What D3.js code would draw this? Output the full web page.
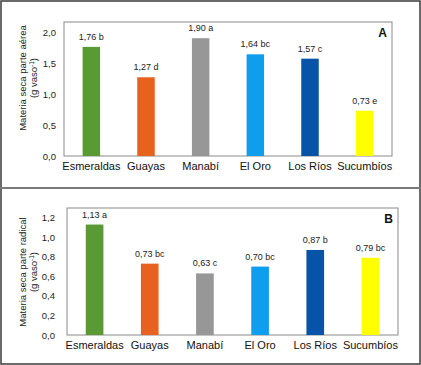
<!DOCTYPE html>
<html lang="es">
<head>
    <meta charset="UTF-8">
    <title>Materia seca</title>
    <script src="https://d3js.org/d3.v7.min.js"></script>
    <style>
        body { margin: 0; background: #fff; }
        svg { display: block; font-family: Arial, "Liberation Sans", sans-serif; }
    </style>
</head>
<body>
    <svg width="421" height="365"></svg>
    <script>

// Data
const categories = ["Esmeraldas", "Guayas", "Manabí", "El Oro", "Los Ríos", "Sucumbíos"];
const barColors = ["#5a9a35", "#e8621f", "#979797", "#0f9ded", "#0753a8", "#ffff00"];

const aereaValues = [1.76, 1.27, 1.90, 1.64, 1.57, 0.73];
const aereaLetters = ["b", "d", "a", "bc", "c", "e"];
const aereaTicks = [0, 0.5, 1.0, 1.5, 2.0];

const radicalValues = [1.13, 0.73, 0.63, 0.70, 0.87, 0.79];
const radicalLetters = ["a", "bc", "c", "bc", "b", "bc"];
const radicalTicks = [0, 0.2, 0.4, 0.6, 0.8, 1.0, 1.2];

// comma as decimal separator
const es = d3.formatLocale({ decimal: ",", thousands: ".", grouping: [3], currency: ["", "€"] });
const fmt1 = es.format(".1f");
const fmt2 = es.format(".2f");

const svg = d3.select("svg");

// outer frame and separator between the two panels
svg.append("rect")
    .attr("x", 1).attr("y", 1)
    .attr("width", 419).attr("height", 363)
    .attr("fill", "none")
    .attr("stroke", "#3a3a3a")
    .attr("stroke-width", 1.5);

svg.append("line")
    .attr("x1", 0).attr("x2", 421)
    .attr("y1", 188).attr("y2", 188)
    .attr("stroke", "#7a7a7a")
    .attr("stroke-width", 2);

function drawPanel(p) {
    const g = svg.append("g");

    const x = d3.scaleBand()
        .domain(categories)
        .range([p.left, p.right])
        .paddingInner(0.68)
        .paddingOuter(0.34);

    const y = d3.scaleLinear()
        .domain([0, p.max])
        .range([p.bottom, p.maxY]);

    // plot frame
    g.append("rect")
        .attr("x", p.left).attr("y", p.top)
        .attr("width", p.right - p.left)
        .attr("height", p.bottom - p.top)
        .attr("fill", "none")
        .attr("stroke", "#8a8a8a")
        .attr("stroke-width", 1);

    // bars
    g.selectAll(".bar")
        .data(p.values)
        .enter().append("rect")
        .attr("class", "bar")
        .attr("x", (d, i) => x(categories[i]))
        .attr("y", d => y(d))
        .attr("width", x.bandwidth())
        .attr("height", d => p.bottom - y(d))
        .attr("fill", (d, i) => barColors[i]);

    // value labels
    g.selectAll(".val")
        .data(p.values)
        .enter().append("text")
        .attr("class", "val")
        .attr("x", (d, i) => x(categories[i]) + x.bandwidth() / 2)
        .attr("y", d => y(d) - 7)
        .attr("text-anchor", "middle")
        .attr("font-size", 9)
        .attr("fill", "#222")
        .text((d, i) => fmt2(d) + " " + p.letters[i]);

    // y axis
    const yAxis = g.append("g")
        .attr("transform", `translate(${p.left},0)`)
        .call(d3.axisLeft(y).tickValues(p.ticks).tickFormat(fmt1).tickSize(0).tickPadding(p.tickPad));
    yAxis.select(".domain").remove();
    yAxis.selectAll("text")
        .attr("font-size", 9.5)
        .attr("font-family", "Arial, 'Liberation Sans', sans-serif")
        .attr("fill", "#222");

    // x axis
    const xAxis = g.append("g")
        .attr("transform", `translate(0,${p.bottom})`)
        .call(d3.axisBottom(x).tickSize(0).tickPadding(6));
    xAxis.select(".domain").remove();
    xAxis.selectAll("text")
        .attr("font-size", 11)
        .attr("font-family", "Arial, 'Liberation Sans', sans-serif")
        .attr("fill", "#111");

    // y title, two lines
    const title = g.append("text")
        .attr("transform", `translate(0,${p.titleY}) rotate(-90)`)
        .attr("text-anchor", "middle")
        .attr("font-size", 9.5)
        .attr("fill", "#222");
    title.append("tspan")
        .attr("x", 0).attr("y", 26)
        .text(p.title);
    const l2 = title.append("tspan")
        .attr("x", 0).attr("y", 37)
        .text("(g vaso");
    l2.append("tspan")
        .attr("dy", -3.5)
        .attr("font-size", 6.5)
        .text("-1");
    l2.append("tspan")
        .attr("dy", 3.5)
        .text(")");

    // panel letter
    g.append("text")
        .attr("x", p.right - 5)
        .attr("y", p.top + p.letterDy)
        .attr("text-anchor", "end")
        .attr("font-size", 12)
        .attr("font-weight", "bold")
        .attr("fill", "#111")
        .text(p.letter);
}

drawPanel({
    values: aereaValues, letters: aereaLetters, ticks: aereaTicks,
    max: 2.0, left: 64, right: 392, top: 22, bottom: 156, maxY: 32, tickPad: 8,
    title: "Materia seca parte aérea", titleY: 78, letter: "A", letterDy: 15
});

drawPanel({
    values: radicalValues, letters: radicalLetters, ticks: radicalTicks,
    max: 1.2, left: 67, right: 398, top: 208, bottom: 335, maxY: 217.7, tickPad: 12,
    title: "Materia seca parte radical", titleY: 272, letter: "B", letterDy: 15
});

    </script>
</body>
</html>
